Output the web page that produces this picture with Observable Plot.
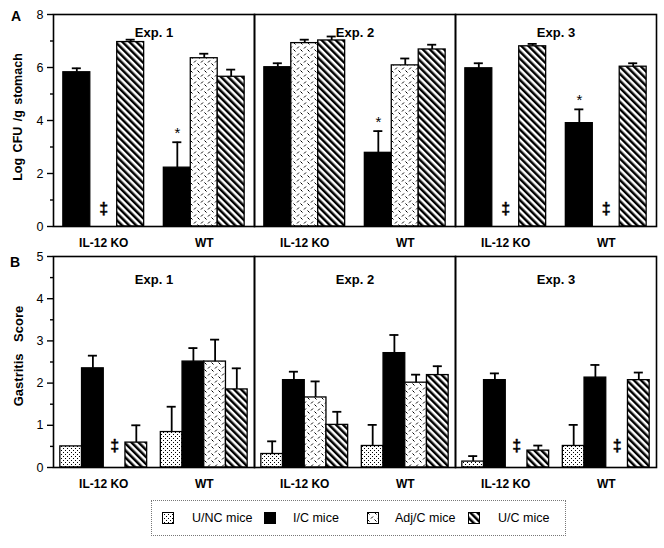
<!DOCTYPE html>
<html><head><meta charset="utf-8">
<script src="https://cdn.jsdelivr.net/npm/d3@7"></script>
<script src="https://cdn.jsdelivr.net/npm/@observablehq/plot@0.6"></script>
<style>
body{margin:0;background:#fff;font-family:"Liberation Sans",Arial,sans-serif;color:#000;}
#wrap{position:relative;width:664px;height:548px;overflow:hidden;}
#a,#b{position:absolute;left:0;}
#a{top:0;} #b{top:250px;}
.letter{position:absolute;font-weight:bold;font-size:14px;line-height:14px;}
.ytitle{position:absolute;font-weight:bold;white-space:pre;transform:translate(-50%,-50%) rotate(-90deg);}
#legend{position:absolute;left:151px;top:500px;width:415px;height:36px;border:1px dotted #777;box-sizing:border-box;}
#legend .sw{position:absolute;top:11px;width:12px;height:12px;}
#legend .lab{position:absolute;top:10px;font-size:12.5px;line-height:14px;}
</style></head><body>
<svg width="0" height="0" style="position:absolute">
<defs>
<pattern id="pDots" patternUnits="userSpaceOnUse" width="4" height="4">
<rect width="4" height="4" fill="white"/><rect x="0" y="0" width="1" height="1" fill="black"/><rect x="2" y="2" width="1" height="1" fill="black"/>
</pattern>
<pattern id="pDash" patternUnits="userSpaceOnUse" width="7" height="7">
<rect width="7" height="7" fill="white"/>
<line x1="0.5" y1="0.5" x2="2.5" y2="2.5" stroke="black" stroke-width="1"/>
<line x1="4" y1="6.5" x2="6" y2="4.5" stroke="black" stroke-width="1"/>
</pattern>
<pattern id="pStripe" patternUnits="userSpaceOnUse" width="5" height="5" patternTransform="rotate(-45)">
<rect width="5" height="5" fill="white"/><rect x="0" y="0" width="2.5" height="5" fill="black"/>
</pattern>
</defs></svg>
<div id="wrap">
<div id="a"></div><div id="b"></div>
<div class="letter" style="left:11px;top:9px">A</div>
<div class="letter" style="left:10px;top:255px">B</div>
<div class="ytitle" style="left:18px;top:117px;font-size:12.5px;word-spacing:2px">Log CFU /g stomach</div>
<div class="ytitle" style="left:18px;top:356px;font-size:13px;word-spacing:8px">Gastritis Score</div>
<div id="legend"></div>
</div>
<script>
const experiments = ["Exp. 1", "Exp. 2", "Exp. 3"];
const groups = ["IL-12 KO", "WT"];
const seriesA = ["I/C", "Adj/C", "U/C"];
const seriesB = ["U/NC", "I/C", "Adj/C", "U/C"];
const legendSeries = ["U/NC", "I/C", "Adj/C", "U/C"];
const legendLabels = ["U/NC mice", "I/C mice", "Adj/C mice", "U/C mice"];

// Panel A: Log CFU/g stomach  [exp][group][series I/C, Adj/C, U/C]; null = not done (‡)
const cfuMean = [
  [[5.82, null, 6.96], [2.22, 6.35, 5.65]],
  [[6.01, 6.92, 7.02], [2.78, 6.08, 6.68]],
  [[5.97, null, 6.80], [3.90, null, 6.03]]
];
const cfuErr = [
  [[0.15, null, 0.09], [0.96, 0.17, 0.27]],
  [[0.15, 0.13, 0.15], [0.82, 0.26, 0.18]],
  [[0.19, null, 0.09], [0.52, null, 0.13]]
];
const cfuStar = [
  [[false, false, false], [true, false, false]],
  [[false, false, false], [true, false, false]],
  [[false, false, false], [true, false, false]]
];
// Panel B: Gastritis score [exp][group][series U/NC, I/C, Adj/C, U/C]
const gsMean = [
  [[0.50, 2.35, null, 0.59], [0.84, 2.51, 2.51, 1.85]],
  [[0.32, 2.07, 1.66, 1.01], [0.51, 2.71, 2.01, 2.19]],
  [[0.14, 2.07, null, 0.40], [0.51, 2.13, null, 2.07]]
];
const gsErr = [
  [[0.00, 0.30, null, 0.41], [0.60, 0.32, 0.52, 0.50]],
  [[0.30, 0.20, 0.38, 0.31], [0.50, 0.43, 0.19, 0.21]],
  [[0.13, 0.16, null, 0.12], [0.50, 0.30, null, 0.18]]
];
const yTicksA = [0, 2, 4, 6, 8], yMinorA = [1, 3, 5, 7];
const yTicksB = [0, 1, 2, 3, 4, 5], yMinorB = [0.5, 1.5, 2.5, 3.5, 4.5];

const fills = {"U/NC": "url(#pDots)", "I/C": "black", "Adj/C": "url(#pDash)", "U/C": "url(#pStripe)"};

function rowsFrom(mean, err, series, star) {
  const rows = [];
  experiments.forEach((exp, ei) => groups.forEach((g, gi) => series.forEach((s, si) => {
    rows.push({exp, group: g, gi, series: s, si, n: series.length,
      mean: mean[ei][gi][si], err: err[ei][gi][si], star: star ? star[ei][gi][si] : false});
  })));
  return rows;
}

function panel(o) {
  const bw = o.barW;
  const cx = d => d.gi + 0.5 + (d.si - (d.n - 1) / 2) * bw;
  const present = o.rows.filter(d => d.mean != null);
  const missing = o.rows.filter(d => d.mean == null);
  const withErr = present.filter(d => d.err > 0);
  const marks = [];
  for (const s of o.series) {
    marks.push(Plot.rectY(present.filter(d => d.series === s), {
      fx: "exp", x1: d => cx(d) - bw / 2, x2: d => cx(d) + bw / 2,
      y1: d => 0, y2: "mean", fill: fills[s], stroke: "black", strokeWidth: 1.3
    }));
  }
  marks.push(Plot.ruleX(withErr, {fx: "exp", x: cx, y1: "mean", y2: d => d.mean + d.err, strokeWidth: 1.8}));
  marks.push(Plot.ruleY(withErr, {fx: "exp", x1: d => cx(d) - 0.045, x2: d => cx(d) + 0.045, y: d => d.mean + d.err, strokeWidth: 1.8}));
  marks.push(Plot.text(present.filter(d => d.star), {fx: "exp", x: cx, y: d => d.mean + d.err, text: d => "*", dy: -9, fontSize: 15, fill: "black"}));
  marks.push(Plot.text(missing, {fx: "exp", x: cx, y: d => 0, text: d => "‡", dy: o.daggerDy, fontSize: 16, fontWeight: "bold", fill: "black", stroke: "black", strokeWidth: 0.4}));
  marks.push(Plot.text(experiments, {fx: d => d, text: d => d, frameAnchor: "top", dy: o.labelDy, fontWeight: "bold", fontSize: 13, fill: "black"}));
  marks.push(Plot.frame({stroke: "black", strokeWidth: 1.6}));
  marks.push(Plot.axisY({ticks: o.ticks, tickFormat: d => String(d), tickSize: 6, tickPadding: 4, fontSize: 12.5, strokeWidth: 1.4, label: null}));
  marks.push(Plot.axisY({ticks: o.minor, tickSize: 3, tickFormat: () => "", strokeWidth: 1.4, label: null}));
  marks.push(Plot.axisX({ticks: [0.5, 1.5], tickFormat: d => groups[Math.floor(d)], tickSize: 0, tickPadding: 12, fontSize: 12, fontWeight: "bold", label: null}));
  return Plot.plot({
    width: 664, height: o.height,
    marginLeft: 52, marginRight: 7, marginTop: o.marginTop, marginBottom: o.marginBottom,
    style: {fontFamily: "Liberation Sans, Arial, sans-serif", fontSize: "12px", color: "black", background: "white"},
    fx: {domain: experiments, padding: 0, axis: null, label: null},
    x: {domain: [0, 2], axis: null, label: null},
    y: {domain: o.yDomain, axis: null, label: null},
    marks
  });
}

document.getElementById("a").append(panel({
  rows: rowsFrom(cfuMean, cfuErr, seriesA, cfuStar), series: seriesA,
  yDomain: [0, 8], ticks: yTicksA, minor: yMinorA,
  height: 250, marginTop: 14, marginBottom: 24, barW: 0.268, labelDy: 13, daggerDy: -18
}));
document.getElementById("b").append(panel({
  rows: rowsFrom(gsMean, gsErr, seriesB, null), series: seriesB,
  yDomain: [0, 5], ticks: yTicksB, minor: yMinorB,
  height: 246, marginTop: 6, marginBottom: 29, barW: 0.216, labelDy: 18, daggerDy: -22
}));

// legend
const leg = document.getElementById("legend");
const swX = [10, 112, 215, 316], labX = [40, 141, 243, 346];
legendSeries.forEach((s, i) => {
  const sw = document.createElementNS("http://www.w3.org/2000/svg", "svg");
  sw.setAttribute("class", "sw"); sw.setAttribute("width", 12); sw.setAttribute("height", 12);
  sw.style.left = swX[i] + "px";
  const r = document.createElementNS("http://www.w3.org/2000/svg", "rect");
  r.setAttribute("x", 0.5); r.setAttribute("y", 0.5); r.setAttribute("width", 11); r.setAttribute("height", 11);
  r.setAttribute("fill", fills[s]); r.setAttribute("stroke", "black"); r.setAttribute("stroke-width", 1);
  sw.append(r); leg.append(sw);
  const t = document.createElement("span");
  t.className = "lab"; t.style.left = labX[i] + "px"; t.textContent = legendLabels[i];
  leg.append(t);
});
</script>
</body></html>
